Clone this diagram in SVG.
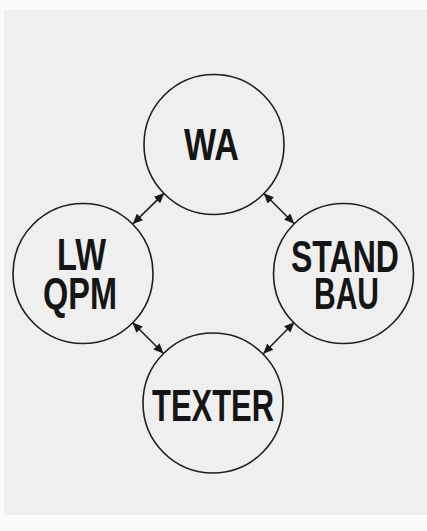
<svg xmlns="http://www.w3.org/2000/svg" width="427" height="531" viewBox="0 0 427 531">
  <defs>
    <marker id="head" viewBox="0 0 10 10" refX="10" refY="5" markerWidth="10" markerHeight="9" markerUnits="userSpaceOnUse" orient="auto-start-reverse" preserveAspectRatio="none">
      <path d="M0,0 L10,5 L0,10 z" fill="#1a1a1a"/>
    </marker>
    <style>
      .node circle { fill: none; stroke: #1f1f1f; stroke-width: 1.6; }
      .node text { font-family: "Liberation Sans", Arial, sans-serif; font-weight: bold; font-size: 45px; fill: #151515; }
      .links line { stroke: #1f1f1f; stroke-width: 1.6; marker-start: url(#head); marker-end: url(#head); }
    </style>
  </defs>

  <!-- page -->
  <rect x="0" y="0" width="427" height="531" fill="#fafafa"/>
  <rect x="4" y="10" width="423" height="505" fill="#efefef"/>

  <!-- connectors -->
  <g class="links">
    <line x1="164.2" y1="193.1" x2="132.8" y2="223.9"/>
    <line x1="263.7" y1="193.3" x2="294.3" y2="223.7"/>
    <line x1="132.5" y1="322.5" x2="163.5" y2="353.5"/>
    <line x1="294.3" y1="322.3" x2="263.3" y2="353.7"/>
  </g>

  <g id="wa" class="node">
    <circle cx="214" cy="144.5" r="70"/>
    <text x="184" y="160" textLength="55" lengthAdjust="spacingAndGlyphs">WA</text>
  </g>

  <g id="lw-qpm" class="node">
    <circle cx="83" cy="273.5" r="70"/>
    <text x="57" y="270" textLength="49" lengthAdjust="spacingAndGlyphs">LW</text>
    <text x="43" y="309" textLength="74" lengthAdjust="spacingAndGlyphs">QPM</text>
  </g>

  <g id="standbau" class="node">
    <circle cx="343.5" cy="273.5" r="70"/>
    <text x="291" y="272" textLength="108" lengthAdjust="spacingAndGlyphs">STAND</text>
    <text x="314" y="309" textLength="65" lengthAdjust="spacingAndGlyphs">BAU</text>
  </g>

  <g id="texter" class="node">
    <circle cx="213" cy="403" r="70"/>
    <text x="152" y="421" textLength="122" lengthAdjust="spacingAndGlyphs">TEXTER</text>
  </g>
</svg>
